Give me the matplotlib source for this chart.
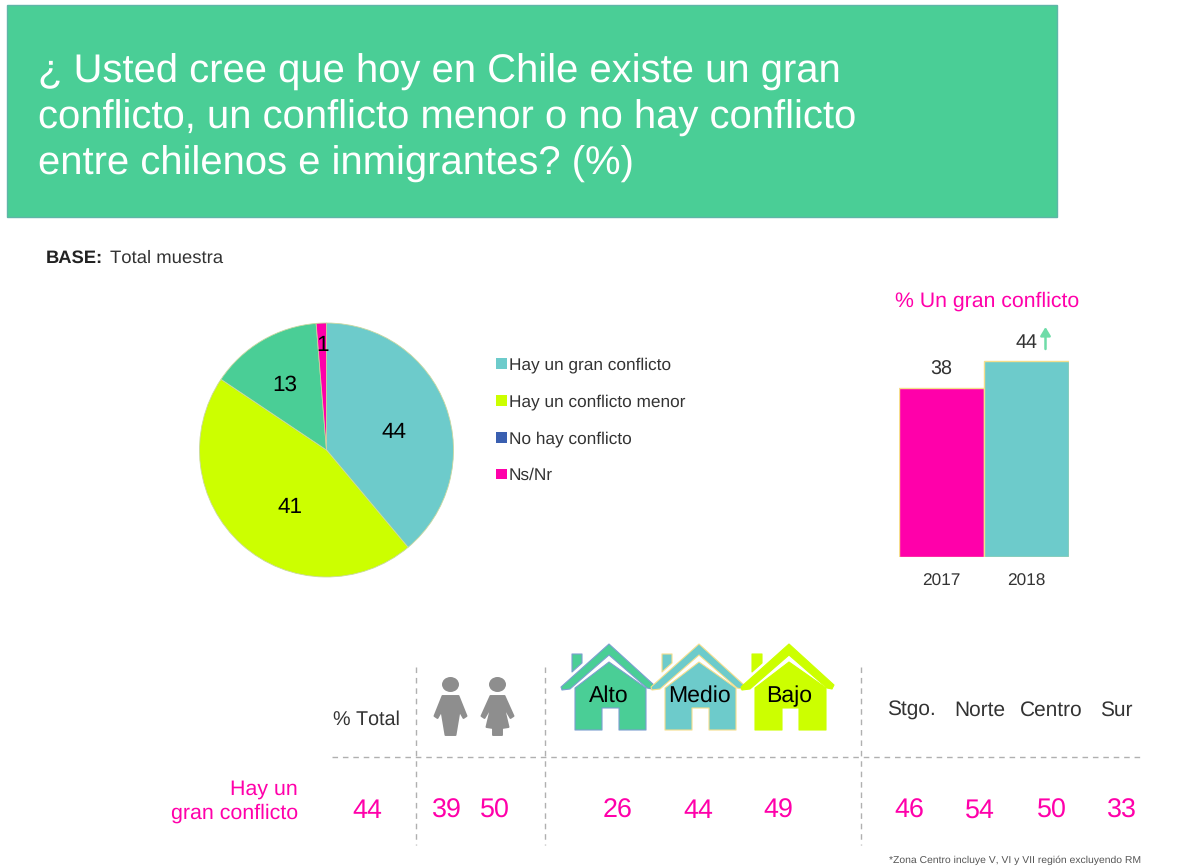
import numpy as np
import matplotlib
matplotlib.use('Agg')
import matplotlib.pyplot as plt
from matplotlib.patches import Rectangle, Polygon, Ellipse, Patch

plt.rcParams['font.family'] = ['Liberation Sans', 'DejaVu Sans']
plt.rcParams['text.hinting'] = 'no_hinting'
plt.rcParams['text.kerning_factor'] = 6

W, H = 1190, 868

# colours
green = '#4ACE96'
teal = '#6DCBCB'
lime = '#CCFF00'
pink = '#FF00AA'
blue = '#3A5FB0'
grey = '#8E8E8E'

# pie: slice sizes as drawn, labels as printed
pie_sizes = [38.9, 45.5, 14.3, 1.3]
pie_labels = ['44', '41', '13', '1']
pie_colors = [teal, lime, green, pink]
legend_names = ['Hay un gran conflicto', 'Hay un conflicto menor', 'No hay conflicto', 'Ns/Nr']
legend_colors = [teal, lime, blue, pink]

# bars
bar_years = ['2017', '2018']
bar_values = [38, 44]
bar_colors = [pink, teal]

# bottom table
gender_values = ['39', '50']
nse_names = ['Alto', 'Medio', 'Bajo']
nse_values = ['26', '44', '49']
zone_names = ['Stgo.', 'Norte', 'Centro', 'Sur']
zone_values = ['46', '54', '50', '33']
total_value = '44'

title_lines = ['¿ Usted cree que hoy en Chile existe un gran',
               'conflicto, un conflicto menor o no hay conflicto',
               'entre chilenos e inmigrantes? (%)']


def axes_px(fig, x0, y0, x1, y1, **kw):
    # axes placed with pixel box, y measured from the top
    return fig.add_axes([x0 / W, 1 - y1 / H, (x1 - x0) / W, (y1 - y0) / H], **kw)


fig = plt.figure(figsize=(11.9, 8.68), dpi=100, facecolor='white')
bg = axes_px(fig, 0, 0, W, H)
bg.set_xlim(0, W)
bg.set_ylim(H, 0)
bg.axis('off')

# header
bg.add_patch(Rectangle((7, 5), 1050, 212, fc=green, ec='#5FB5A8', lw=1))
for i, line in enumerate(title_lines):
    bg.text(38, 83 + i * 46, line, color='white', fontsize=28.8, va='baseline', ha='left')

bg.text(46, 263, 'BASE:', fontsize=13.2, fontweight='bold', color='#222222', va='baseline')
bg.text(110, 263, 'Total muestra', fontsize=13.3, color='#333333', va='baseline')

# pie
r = 127
cx, cy = 326.5, 450
ax_pie = axes_px(fig, cx - r, cy - r, cx + r, cy + r)
wedges, _ = ax_pie.pie(pie_sizes, colors=pie_colors, startangle=90, counterclock=False, radius=1,
                       wedgeprops={'linewidth': 0.6, 'edgecolor': '#C9D8A0'})
ax_pie.set_xlim(-1, 1)
ax_pie.set_ylim(-1, 1)
label_pos = [(394, 438), (290, 513), (285, 391), (323, 351)]
for (lx, ly), txt in zip(label_pos, pie_labels):
    bg.text(lx, ly, txt, fontsize=16.2, color='black', ha='center', va='baseline', zorder=5)
bg.set_zorder(ax_pie.get_zorder() + 1)
bg.patch.set_visible(False)

# legend
handles = [Patch(fc=c, ec='none') for c in legend_colors]
leg = fig.legend(handles, legend_names, loc='upper left', bbox_to_anchor=(491 / W, 1 - 352 / H),
                 frameon=False, fontsize=12.4, handlelength=0.6, handleheight=0.6,
                 handletextpad=0.13, labelspacing=1.22, labelcolor='#333333',
                 borderaxespad=0, borderpad=0.3)

# bars
ax_bar = axes_px(fig, 899, 300, 1069, 557)
ax_bar.bar(bar_years, bar_values, width=1.0, color=bar_colors, edgecolor='#F5DE8C', linewidth=1)
ax_bar.set_xlim(-0.5, 1.5)
ax_bar.set_ylim(0, 257 / 4.45)
for s in ax_bar.spines.values():
    s.set_visible(False)
ax_bar.patch.set_visible(False)
ax_bar.tick_params(axis='x', length=0, labelsize=12.4, labelcolor='#333333', pad=12)
ax_bar.set_yticks([])
for i, v in enumerate(bar_values):
    ax_bar.annotate(str(v), (i, v), xytext=(0, 13), textcoords='offset points',
                    ha='center', va='center', fontsize=14.2, color='#333333')
bg.text(987.5, 307, '% Un gran conflicto', fontsize=15.3, color=pink, ha='center', va='baseline')
bg.annotate('', xy=(1045.5, 327), xytext=(1045.5, 349),
            arrowprops=dict(arrowstyle='-|>,head_width=0.3,head_length=0.5', color='#6FDCA8', lw=1.8,
                            shrinkA=0, shrinkB=0))


# icons
def person(x, female=False):
    bg.add_patch(Ellipse((x, 684.5), 17, 15, fc=grey, ec='none'))
    if female:
        pts = [(x - 7, 696), (x + 7, 696), (x + 16, 716), (x + 13, 718), (x + 6, 706), (x + 11, 727),
               (x + 4.5, 728), (x + 4.5, 735), (x - 4.5, 735), (x - 4.5, 728), (x - 11, 727), (x - 6, 706),
               (x - 13, 718), (x - 16, 716)]
    else:
        pts = [(x - 8, 696), (x + 8, 696), (x + 16, 716), (x + 13, 718), (x + 9, 711), (x + 5, 735),
               (x - 5, 735), (x - 9, 711), (x - 13, 718), (x - 16, 716)]
    bg.add_patch(Polygon(pts, closed=True, fc=grey, ec=grey, lw=1.4, joinstyle='round'))


def house(x, color, edge):
    body = [(x - 34, 688), (x, 662), (x + 37, 688), (x + 37, 730), (x + 10, 730), (x + 10, 708),
            (x - 7, 708), (x - 7, 730), (x - 34, 730)]
    roof = [(x - 48, 687), (x, 644), (x + 45, 685), (x + 43, 689), (x + 38, 688), (x, 655), (x - 39, 689), (x - 47, 690)]
    chimney = [(x - 37, 654), (x - 27, 654), (x - 27, 663), (x - 37, 672)]
    for pts in (chimney, body, roof):
        bg.add_patch(Polygon(pts, closed=True, fc=color, ec=edge, lw=0.8, joinstyle='round'))


person(450.5)
person(497.5, female=True)
house_x = [609, 699, 789]
house_colors = [green, teal, lime]
house_edges = ['#7C9FD0', '#F5DE8C', lime]
for x, c, e, name in zip(house_x, house_colors, house_edges, nse_names):
    house(x, c, e)
    bg.text(x, 702, name, fontsize=16.6, color='black', ha='center', va='baseline', zorder=5)

# table header
bg.text(366, 725, '% Total', fontsize=14.2, color='#333333', ha='center', va='baseline')
for x, name in zip([911, 980, 1051, 1116], zone_names):
    bg.text(x, 716, name, fontsize=15, color='#333333', ha='center', va='baseline')

# dashed grid
dash = dict(color='#B0B0B0', lw=1, ls=(0, (4, 3.5)))
bg.plot([332, 1142], [757, 757], **dash)
for x, y0, y1 in [(416, 667, 845), (545, 667, 845), (861, 667, 845)]:
    bg.plot([x, x], [y0, y1], **dash)

# table values
bg.text(298, 795, 'Hay un', fontsize=15.4, color=pink, ha='right', va='baseline')
bg.text(298, 819, 'gran conflicto', fontsize=15.4, color=pink, ha='right', va='baseline')
val_kw = dict(fontsize=19.4, color=pink, ha='center', va='baseline')
bg.text(367, 818, total_value, **val_kw)
for x, v in zip([447, 495], gender_values):
    bg.text(x, 818, v, **val_kw)
for x, v in zip([618, 698, 778], nse_values):
    bg.text(x, 818, v, **val_kw)
for x, v in zip([909, 980, 1052, 1122], zone_values):
    bg.text(x, 818, v, **val_kw)

bg.text(889, 863, '*Zona Centro incluye V, VI y VII región excluyendo RM', fontsize=7.45, color='#555555',
        ha='left', va='baseline')

fig.savefig('out.png', dpi=100)
